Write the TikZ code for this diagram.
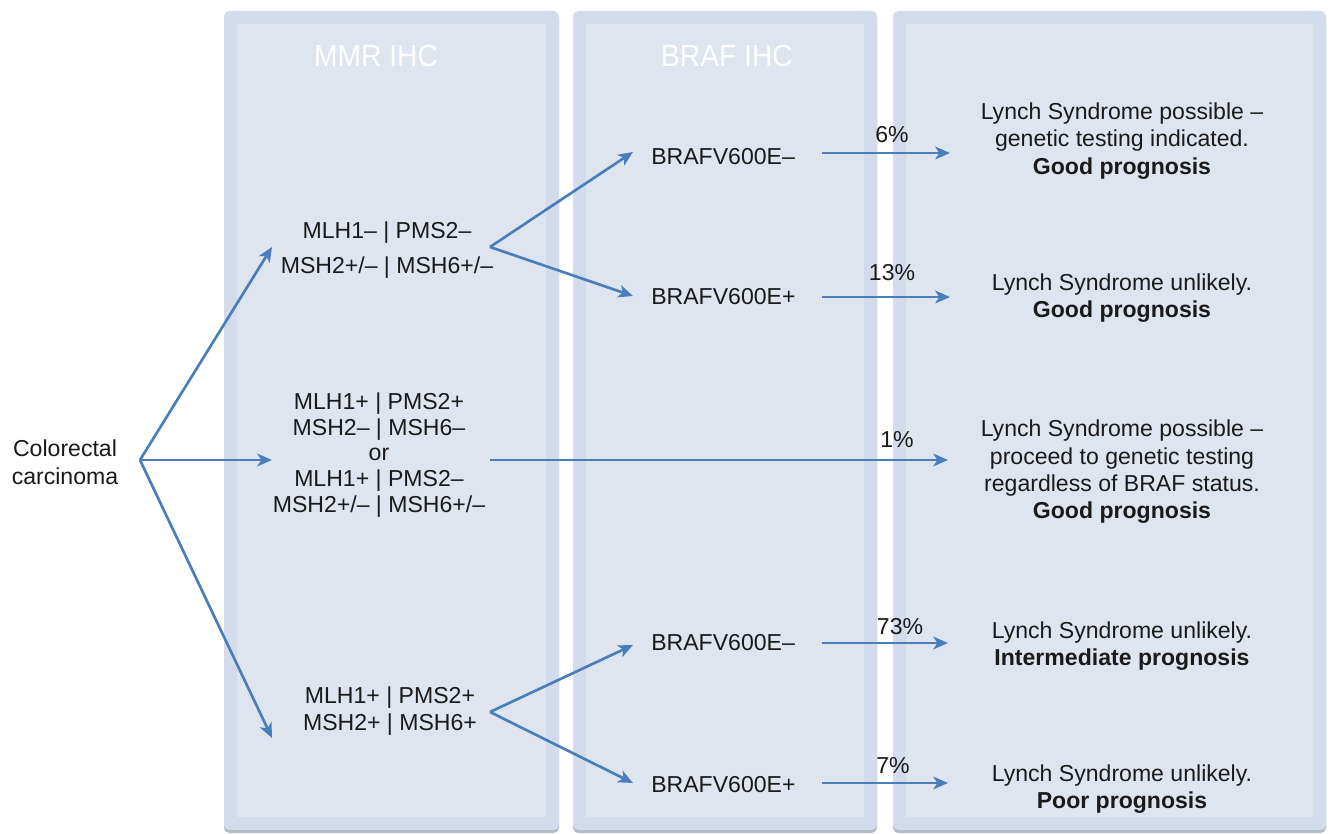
\documentclass[tikz,border=0pt]{standalone}
\usepackage{fontspec}
\setmainfont{Liberation Sans}
\usetikzlibrary{arrows.meta}
\definecolor{arrowblue}{HTML}{4A7EBB}
\definecolor{panelframe}{HTML}{D3DCEA}
\definecolor{panelinner}{HTML}{DFE5EF}
\definecolor{panelshadow}{HTML}{B4BBC6}
\definecolor{txt}{HTML}{1A1A1A}
\begin{document}
\begin{tikzpicture}[x=0.75pt,y=-0.75pt,
  lbl/.style={font=\fontsize{17.3}{20.5}\selectfont, text=txt, align=center, inner sep=0pt},
  head/.style={font=\fontsize{23}{27}\selectfont, text=white, inner sep=0pt},
  flow/.style={draw=arrowblue, line width=2pt, -{Stealth[length=11pt,width=9.5pt,inset=3pt]}},
  shadowbox/.style={fill=panelshadow, rounded corners=4pt},
  framebox/.style={fill=panelframe, rounded corners=4pt},
  innerbox/.style={fill=panelinner}
]
\useasboundingbox (0,0) rectangle (1332,834);
\fill[white] (0,0) rectangle (1332,834);

% panels
\fill[shadowbox] (224,14) rectangle (559,833);
\fill[framebox] (224,11) rectangle (559,830);
\fill[innerbox] (237,24) rectangle (546,817);
\fill[shadowbox] (573,14) rectangle (877,833);
\fill[framebox] (573,11) rectangle (877,830);
\fill[innerbox] (586,24) rectangle (864,817);
\fill[shadowbox] (893,14) rectangle (1326,833);
\fill[framebox] (893,11) rectangle (1326,830);
\fill[innerbox] (906,24) rectangle (1313,817);

% headings
\node[head] (hmmr) at (376,56) {\scalebox{0.92}[1]{MMR IHC}};
\node[head] (hbraf) at (727,56) {\scalebox{0.92}[1]{BRAF IHC}};

% left
\node[lbl, font=\fontsize{17.3}{21}\selectfont] (cc) at (65,462) {Colorectal\\carcinoma};
\coordinate (o) at (140,460);

% MMR column
\node[lbl, font=\fontsize{17.3}{26}\selectfont] (m1) at (387,250) {MLH1\textendash{} | PMS2\textendash\\MSH2+/\textendash{} | MSH6+/\textendash};
\node[lbl, font=\fontsize{17.3}{19.2}\selectfont] (m2) at (379,455) {MLH1+ | PMS2+\\MSH2\textendash{} | MSH6\textendash\\or\\MLH1+ | PMS2\textendash\\MSH2+/\textendash{} | MSH6+/\textendash};
\node[lbl, font=\fontsize{17.3}{20.3}\selectfont] (m3) at (390,711) {MLH1+ | PMS2+\\MSH2+ | MSH6+};

\coordinate (m1in) at (272,247);
\coordinate (m2in) at (272,460);
\coordinate (m3in) at (272,738);
\coordinate (j1) at (490,247);
\coordinate (j2) at (490,460);
\coordinate (j3) at (490,712);

% BRAF column
\node[lbl, anchor=west] (b1) at (651,157) {BRAFV600E\textendash};
\node[lbl, anchor=west] (b2) at (651,297) {BRAFV600E+};
\node[lbl, anchor=west] (b3) at (651,643) {BRAFV600E\textendash};
\node[lbl, anchor=west] (b4) at (651,785) {BRAFV600E+};

\coordinate (b1in) at (633,152);
\coordinate (b2in) at (633,296);
\coordinate (b3in) at (633,645);
\coordinate (b4in) at (633,783);
\coordinate (b1out) at (822,153);
\coordinate (b2out) at (822,297);
\coordinate (b3out) at (822,643);
\coordinate (b4out) at (822,783);

% outcomes
\node[lbl] (r1) at (1122,141) {Lynch Syndrome possible \textendash\\genetic testing indicated.\\\textbf{Good prognosis}};
\node[lbl] (r2) at (1122,298) {Lynch Syndrome unlikely.\\\textbf{Good prognosis}};
\node[lbl] (r3) at (1122,472) {Lynch Syndrome possible \textendash\\proceed to genetic testing\\regardless of BRAF status.\\\textbf{Good prognosis}};
\node[lbl] (r4) at (1122,646) {Lynch Syndrome unlikely.\\\textbf{Intermediate prognosis}};
\node[lbl] (r5) at (1122,789) {Lynch Syndrome unlikely.\\\textbf{Poor prognosis}};

\coordinate (r1in) at (950,153);
\coordinate (r2in) at (950,297);
\coordinate (r3in) at (948,460);
\coordinate (r4in) at (948,643);
\coordinate (r5in) at (948,783);

% percentages
\node[lbl] (p1) at (892,135) {6\%};
\node[lbl] (p2) at (892,273) {13\%};
\node[lbl] (p3) at (897,440) {1\%};
\node[lbl] (p4) at (900,627) {73\%};
\node[lbl] (p5) at (893,766) {7\%};

% connectors
\draw[flow] (o) -- (m1in);
\draw[flow] (o) -- (m2in);
\draw[flow] (o) -- (m3in);
\draw[flow] (j1) -- (b1in);
\draw[flow] (j1) -- (b2in);
\draw[flow] (j3) -- (b3in);
\draw[flow] (j3) -- (b4in);
\draw[flow] (j2) -- (r3in);
\draw[flow] (b1out) -- (r1in);
\draw[flow] (b2out) -- (r2in);
\draw[flow] (b3out) -- (r4in);
\draw[flow] (b4out) -- (r5in);
\end{tikzpicture}
\end{document}
